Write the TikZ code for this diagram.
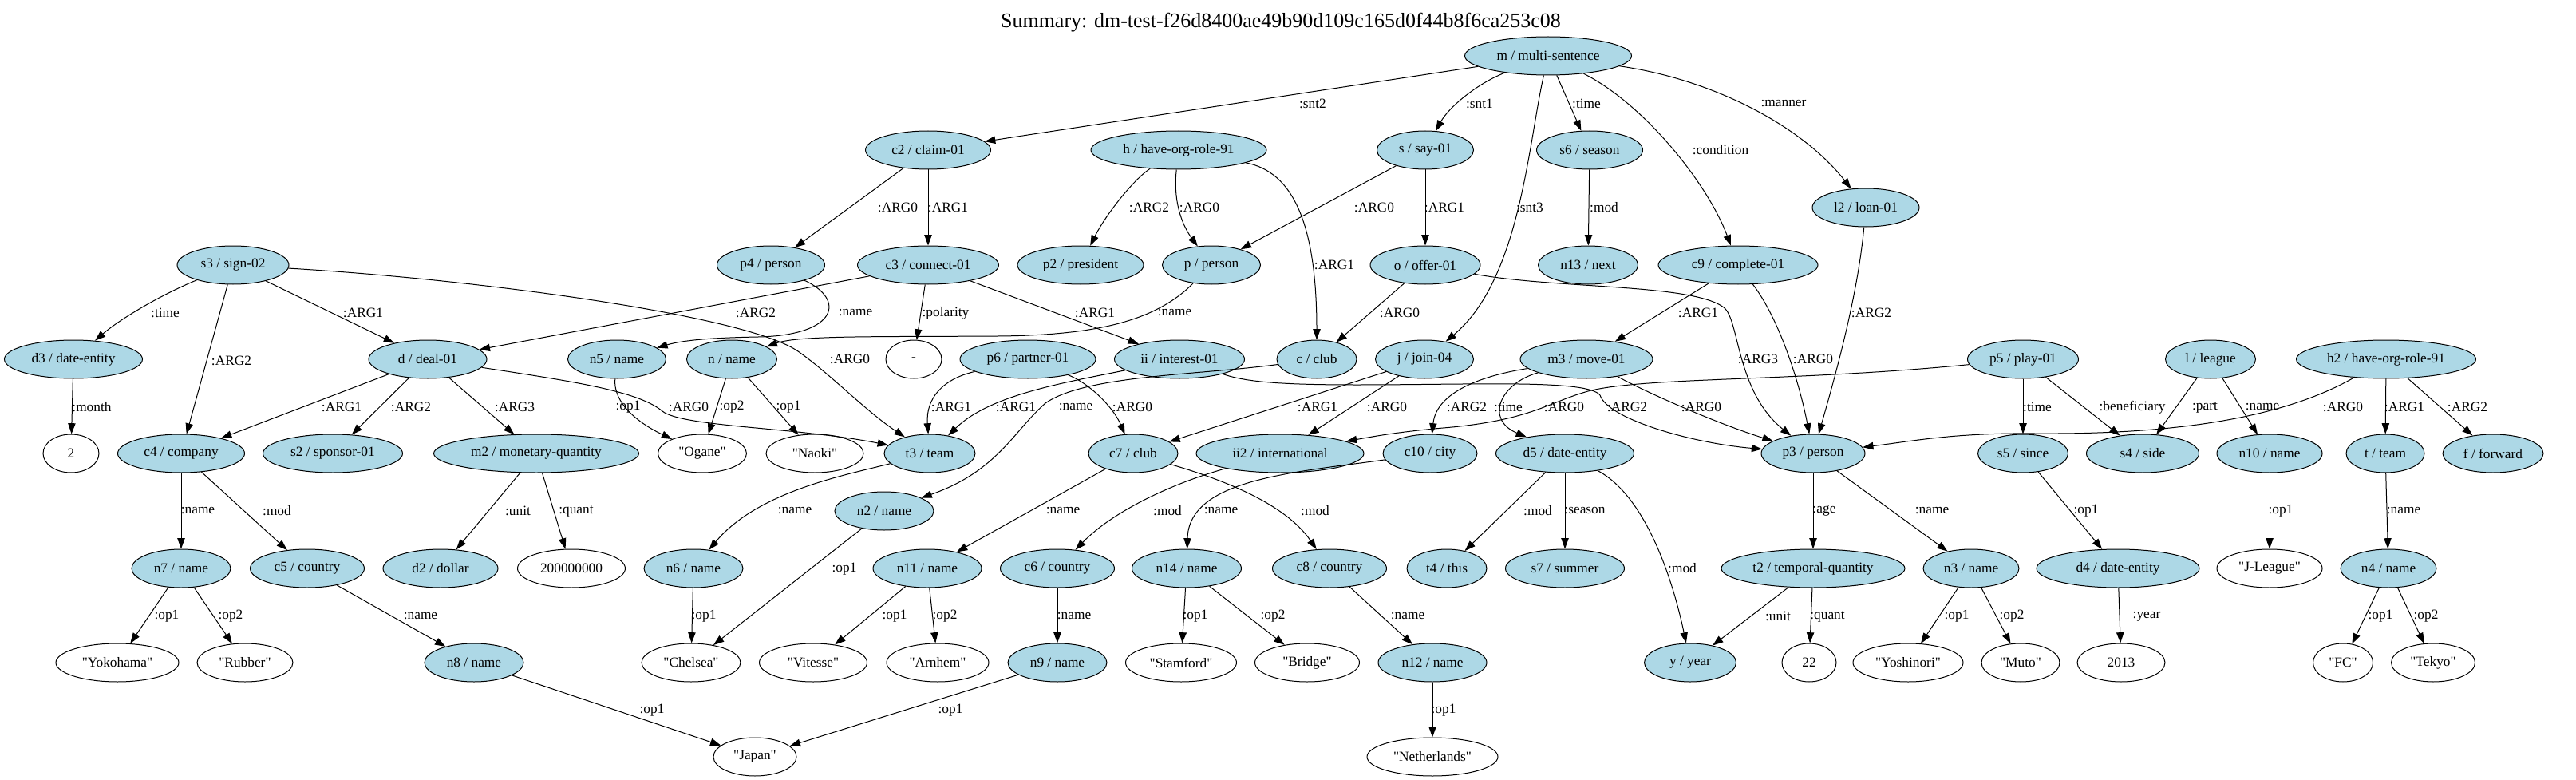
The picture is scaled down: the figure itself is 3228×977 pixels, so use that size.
\documentclass[tikz,border=0pt]{standalone}
\usepackage{fontspec}
\setmainfont{Liberation Serif}
\newfontfamily\gvfont{Liberation Serif}
\usetikzlibrary{shapes.geometric,arrows.meta}
\definecolor{lb}{HTML}{ADD8E6}
\newcommand{\ntx}[1]{\makebox[0pt]{#1}}
\begin{document}
\begin{tikzpicture}[x=0.75pt,y=-0.75pt,
  base/.style={ellipse, draw, line width=0.75pt, minimum height=36pt, inner sep=0pt, font=\gvfont\fontsize{13}{15}\selectfont},
  bn/.style={base, fill=lb, minimum width=#1*0.75pt},
  wn/.style={base, fill=white, minimum width=#1*0.75pt},
  e/.style={-{Triangle[length=10pt,width=7pt]}, line width=0.75pt},
  el/.style={font=\gvfont\fontsize{13}{15}\selectfont, inner sep=0pt}]
\fill[white] (0,0) rectangle (3228,977);
\useasboundingbox (0,0) rectangle (3228,977);
\node[inner sep=0pt, font=\gvfont\fontsize{19.5}{22}\selectfont] (title) at (1605,28) {Summary: dm-test-f26d8400ae49b90d109c165d0f44b8f6ca253c08};
% row 0
\node[bn=209] (m) at (1940,70) {\ntx{m / multi-sentence}};
% row 1
\node[bn=157] (c2) at (1163,188) {\ntx{c2 / claim-01}};
\node[bn=220] (h) at (1477,188) {\ntx{h / have-org-role-91}};
\node[bn=121] (s) at (1786,188) {\ntx{s / say-01}};
\node[bn=133] (s6) at (1992,188) {\ntx{s6 / season}};
\node[bn=134] (l2) at (2338,260) {\ntx{l2 / loan-01}};
% row 2
\node[bn=140] (s3) at (292,332) {\ntx{s3 / sign-02}};
\node[bn=135] (p4) at (966,332) {\ntx{p4 / person}};
\node[bn=177] (c3) at (1163,332) {\ntx{c3 / connect-01}};
\node[bn=158] (p2) at (1354,332) {\ntx{p2 / president}};
\node[bn=123] (p) at (1518,332) {\ntx{p / person}};
\node[bn=138] (o) at (1786,332) {\ntx{o / offer-01}};
\node[bn=125] (n13) at (1990,332) {\ntx{n13 / next}};
\node[bn=200] (c9) at (2178,332) {\ntx{c9 / complete-01}};
% row 3
\node[bn=173] (d3) at (92,450) {\ntx{d3 / date-entity}};
\node[bn=148] (d) at (536,450) {\ntx{d / deal-01}};
\node[bn=123] (n5) at (773,450) {\ntx{n5 / name}};
\node[bn=113] (n) at (917,450) {\ntx{n / name}};
\node[wn=70] (neg) at (1145,450) {\ntx{-}};
\node[bn=170] (p6) at (1288,450) {\ntx{p6 / partner-01}};
\node[bn=163] (ii) at (1478,450) {\ntx{ii / interest-01}};
\node[bn=100] (c) at (1650,450) {\ntx{c / club}};
\node[bn=123] (j) at (1785,450) {\ntx{j / join-04}};
\node[bn=166] (m3) at (1988,450) {\ntx{m3 / move-01}};
\node[bn=139] (p5) at (2535,450) {\ntx{p5 / play-01}};
\node[bn=113] (l) at (2770,450) {\ntx{l / league}};
\node[bn=225] (h2) at (2990,450) {\ntx{h2 / have-org-role-91}};
% row 4
\node[wn=70] (two) at (89,568) {\ntx{2}};
\node[bn=159] (c4) at (227,568) {\ntx{c4 / company}};
\node[bn=175] (s2) at (417,568) {\ntx{s2 / sponsor-01}};
\node[bn=257] (m2) at (672,568) {\ntx{m2 / monetary-quantity}};
\node[wn=111] (ogane) at (880,568) {\ntx{"Ogane"}};
\node[wn=122] (naoki) at (1021,568) {\ntx{"Naoki"}};
\node[bn=114] (t3) at (1165,568) {\ntx{t3 / team}};
\node[bn=112] (c7) at (1420,568) {\ntx{c7 / club}};
\node[bn=210] (ii2) at (1604,568) {\ntx{ii2 / international}};
\node[bn=118] (c10) at (1792,568) {\ntx{c10 / city}};
\node[bn=173] (d5) at (1961,568) {\ntx{d5 / date-entity}};
\node[bn=130] (p3) at (2272,568) {\ntx{p3 / person}};
\node[bn=113] (s5) at (2535,568) {\ntx{s5 / since}};
\node[bn=141] (s4) at (2685,568) {\ntx{s4 / side}};
\node[bn=132] (n10) at (2844,568) {\ntx{n10 / name}};
\node[bn=98] (t) at (2989,568) {\ntx{t / team}};
\node[bn=126] (f) at (3124,568) {\ntx{f / forward}};
% row 5
\node[bn=124] (n2) at (1108,640) {\ntx{n2 / name}};
% row 6
\node[bn=124] (n7) at (227,712) {\ntx{n7 / name}};
\node[bn=143] (c5) at (385,712) {\ntx{c5 / country}};
\node[bn=144] (d2) at (552,712) {\ntx{d2 / dollar}};
\node[wn=135] (q) at (716,712) {\ntx{200000000}};
\node[bn=124] (n6) at (869,712) {\ntx{n6 / name}};
\node[bn=136] (n11) at (1162,712) {\ntx{n11 / name}};
\node[bn=143] (c6) at (1325,712) {\ntx{c6 / country}};
\node[bn=137] (n14) at (1487,712) {\ntx{n14 / name}};
\node[bn=143] (c8) at (1666,712) {\ntx{c8 / country}};
\node[bn=100] (t4) at (1813,712) {\ntx{t4 / this}};
\node[bn=149] (s7) at (1961,712) {\ntx{s7 / summer}};
\node[bn=230] (t2) at (2272,712) {\ntx{t2 / temporal-quantity}};
\node[bn=120] (n3) at (2470,712) {\ntx{n3 / name}};
\node[bn=204] (d4) at (2654,712) {\ntx{d4 / date-entity}};
\node[wn=132] (jl) at (2844,712) {\ntx{"J-League"}};
\node[bn=120] (n4) at (2993,712) {\ntx{n4 / name}};
% row 7
\node[wn=154] (yok) at (147,830) {\ntx{"Yokohama"}};
\node[wn=120] (rub) at (307,830) {\ntx{"Rubber"}};
\node[bn=124] (n8) at (594,830) {\ntx{n8 / name}};
\node[wn=124] (chel) at (866,830) {\ntx{"Chelsea"}};
\node[wn=135] (vit) at (1019,830) {\ntx{"Vitesse"}};
\node[wn=128] (arn) at (1175,830) {\ntx{"Arnhem"}};
\node[bn=124] (n9) at (1325,830) {\ntx{n9 / name}};
\node[wn=139] (stam) at (1480,830) {\ntx{"Stamford"}};
\node[wn=131] (brid) at (1638,830) {\ntx{"Bridge"}};
\node[bn=136] (n12) at (1795,830) {\ntx{n12 / name}};
\node[bn=115] (yr) at (2118,830) {\ntx{y / year}};
\node[wn=68] (v22) at (2267,830) {\ntx{22}};
\node[wn=138] (yosh) at (2391,830) {\ntx{"Yoshinori"}};
\node[wn=98] (muto) at (2532,830) {\ntx{"Muto"}};
\node[wn=110] (v2013) at (2658,830) {\ntx{2013}};
\node[wn=75] (fc) at (2936,830) {\ntx{"FC"}};
\node[wn=105] (tek) at (3049,830) {\ntx{"Tekyo"}};
% row 8
\node[wn=104] (japan) at (946,948) {\ntx{"Japan"}};
\node[wn=164] (neth) at (1795,948) {\ntx{"Netherlands"}};

% edges from m
\draw[e] (m) -- (c2) node[el,at={(1645,130)}]{:snt2};
\draw[e] (m) .. controls (1850,105) and (1815,135) .. (s) node[el,at={(1854,130)}]{:snt1};
\draw[e] (m) .. controls (1915,180) and (1905,350) .. (j) node[el,at={(1917,260)}]{:snt3};
\draw[e] (m) -- (s6) node[el,at={(1988,130)}]{:time};
\draw[e] (m) .. controls (2060,130) and (2140,230) .. (c9) node[el,at={(2156,188)}]{:condition};
\draw[e] (m) .. controls (2150,100) and (2260,160) .. (l2) node[el,at={(2235,130)}]{:manner};
% row 1
\draw[e] (c2) -- (p4) node[el,at={(1125,260)}]{:ARG0};
\draw[e] (c2) -- (c3) node[el,at={(1188,260)}]{:ARG1};
\draw[e] (h) .. controls (1420,225) and (1385,270) .. (p2) node[el,at={(1440,260)}]{:ARG2};
\draw[e] (h) .. controls (1470,250) and (1480,280) .. (p) node[el,at={(1503,260)}]{:ARG0};
\draw[e] (h) .. controls (1620,215) and (1650,280) .. (c) node[el,at={(1672,332)}]{:ARG1};
\draw[e] (s) -- (p) node[el,at={(1722,260)}]{:ARG0};
\draw[e] (s) -- (o) node[el,at={(1810,260)}]{:ARG1};
\draw[e] (s6) -- (n13) node[el,at={(2010,260)}]{:mod};
% row 2
\draw[e] (s3) .. controls (200,370) and (150,400) .. (d3) node[el,at={(207,392)}]{:time};
\draw[e] (s3) -- (c4) node[el,at={(290,452)}]{:ARG2};
\draw[e] (s3) -- (d) node[el,at={(455,392)}]{:ARG1};
\draw[e] (s3) .. controls (600,350) and (935,395) .. (1000,440) .. controls (1040,468) and (1085,515) .. (t3) node[el,at={(1065,450)}]{:ARG0};
\draw[e] (p4) .. controls (1060,375) and (1050,420) .. (950,422) .. controls (900,423) and (860,425) .. (n5) node[el,at={(1072,392)}]{:name};
\draw[e] (c3) -- (d) node[el,at={(947,392)}]{:ARG2};
\draw[e] (c3) -- (neg) node[el,at={(1185,392)}]{:polarity};
\draw[e] (c3) -- (ii) node[el,at={(1372,392)}]{:ARG1};
\draw[e] (p) .. controls (1450,400) and (1380,420) .. (1250,421) .. controls (1100,422) and (1000,420) .. (n) node[el,at={(1472,392)}]{:name};
\draw[e] (o) -- (c) node[el,at={(1754,392)}]{:ARG0};
\draw[e] (o) .. controls (1950,362) and (2120,355) .. (2160,385) .. controls (2180,400) and (2175,490) .. (p3) node[el,at={(2203,450)}]{:ARG3};
\draw[e] (c9) -- (m3) node[el,at={(2128,392)}]{:ARG1};
\draw[e] (c9) .. controls (2230,400) and (2255,480) .. (p3) node[el,at={(2272,450)}]{:ARG0};
\draw[e] (l2) .. controls (2328,370) and (2300,470) .. (p3) node[el,at={(2345,392)}]{:ARG2};
% row 3
\draw[e] (d3) -- (two) node[el,at={(115,510)}]{:month};
\draw[e] (d) -- (c4) node[el,at={(428,510)}]{:ARG1};
\draw[e] (d) -- (s2) node[el,at={(515,510)}]{:ARG2};
\draw[e] (d) -- (m2) node[el,at={(645,510)}]{:ARG3};
\draw[e] (d) .. controls (720,478) and (800,490) .. (830,515) .. controls (855,535) and (1000,535) .. (t3) node[el,at={(863,510)}]{:ARG0};
\draw[e] (n5) .. controls (768,505) and (800,530) .. (ogane) node[el,at={(787,510)}]{:op1};
\draw[e] (n) -- (ogane) node[el,at={(917,510)}]{:op2};
\draw[e] (n) -- (naoki) node[el,at={(988,510)}]{:op1};
\draw[e] (p6) .. controls (1180,475) and (1160,500) .. (t3) node[el,at={(1192,510)}]{:ARG1};
\draw[e] (ii) .. controls (1330,480) and (1240,495) .. (t3) node[el,at={(1273,510)}]{:ARG1};
\draw[e] (c) .. controls (1500,470) and (1360,470) .. (1310,505) .. controls (1270,540) and (1250,590) .. (n2) node[el,at={(1348,510)}]{:name};
\draw[e] (p6) .. controls (1365,480) and (1395,510) .. (c7) node[el,at={(1419,510)}]{:ARG0};
\draw[e] (j) -- (c7) node[el,at={(1651,510)}]{:ARG1};
\draw[e] (j) -- (ii2) node[el,at={(1738,510)}]{:ARG0};
\draw[e] (m3) .. controls (1860,470) and (1800,490) .. (c10) node[el,at={(1838,510)}]{:ARG2};
\draw[e] (m3) .. controls (1880,480) and (1860,525) .. (d5) node[el,at={(1890,510)}]{:time};
\draw[e] (p5) .. controls (2250,478) and (2060,472) .. (1990,490) .. controls (1940,504) and (1920,525) .. (1820,535) .. controls (1760,540) and (1730,545) .. (ii2) node[el,at={(1960,510)}]{:ARG0};
\draw[e] (ii) .. controls (1560,478) and (1600,482) .. (1700,482) .. controls (1850,482) and (1990,475) .. (2005,495) .. controls (2015,525) and (2120,555) .. (p3) node[el,at={(2039,510)}]{:ARG2};
\draw[e] (m3) .. controls (2060,490) and (2150,530) .. (p3) node[el,at={(2132,510)}]{:ARG0};
\draw[e] (p5) -- (s5) node[el,at={(2553,510)}]{:time};
\draw[e] (p5) -- (s4) node[el,at={(2672,510)}]{:beneficiary};
\draw[e] (l) -- (s4) node[el,at={(2763,510)}]{:part};
\draw[e] (l) -- (n10) node[el,at={(2835,510)}]{:name};
\draw[e] (h2) .. controls (2850,530) and (2700,544) .. (2550,543) .. controls (2450,542) and (2400,552) .. (p3) node[el,at={(2936,510)}]{:ARG0};
\draw[e] (h2) -- (t) node[el,at={(3013,510)}]{:ARG1};
\draw[e] (h2) -- (f) node[el,at={(3092,510)}]{:ARG2};
% row 4
\draw[e] (c4) -- (n7) node[el,at={(248,640)}]{:name};
\draw[e] (c4) -- (c5) node[el,at={(347,640)}]{:mod};
\draw[e] (m2) -- (d2) node[el,at={(649,640)}]{:unit};
\draw[e] (m2) -- (q) node[el,at={(722,640)}]{:quant};
\draw[e] (t3) .. controls (1060,595) and (950,615) .. (n6) node[el,at={(996,640)}]{:name};
\draw[e] (c7) -- (n11) node[el,at={(1332,640)}]{:name};
\draw[e] (ii2) .. controls (1470,605) and (1395,640) .. (c6) node[el,at={(1463,640)}]{:mod};
\draw[e] (c10) .. controls (1620,592) and (1490,600) .. (n14) node[el,at={(1530,640)}]{:name};
\draw[e] (c7) .. controls (1530,600) and (1610,630) .. (c8) node[el,at={(1648,640)}]{:mod};
\draw[e] (d5) -- (t4) node[el,at={(1927,640)}]{:mod};
\draw[e] (d5) -- (s7) node[el,at={(1986,640)}]{:season};
\draw[e] (d5) .. controls (2060,620) and (2095,720) .. (yr) node[el,at={(2108,712)}]{:mod};
\draw[e] (p3) -- (t2) node[el,at={(2286,640)}]{:age};
\draw[e] (p3) -- (n3) node[el,at={(2421,640)}]{:name};
\draw[e] (s5) -- (d4) node[el,at={(2614,640)}]{:op1};
\draw[e] (n10) -- (jl) node[el,at={(2858,640)}]{:op1};
\draw[e] (t) -- (n4) node[el,at={(3012,640)}]{:name};
\draw[e] (n2) -- (chel) node[el,at={(1058,713)}]{:op1};
% row 6
\draw[e] (n7) -- (yok) node[el,at={(209,772)}]{:op1};
\draw[e] (n7) -- (rub) node[el,at={(289,772)}]{:op2};
\draw[e] (c5) -- (n8) node[el,at={(527,772)}]{:name};
\draw[e] (n6) -- (chel) node[el,at={(882,772)}]{:op1};
\draw[e] (n11) -- (vit) node[el,at={(1121,772)}]{:op1};
\draw[e] (n11) -- (arn) node[el,at={(1184,772)}]{:op2};
\draw[e] (c6) -- (n9) node[el,at={(1346,772)}]{:name};
\draw[e] (n14) -- (stam) node[el,at={(1498,772)}]{:op1};
\draw[e] (n14) -- (brid) node[el,at={(1595,772)}]{:op2};
\draw[e] (c8) -- (n12) node[el,at={(1764,772)}]{:name};
\draw[e] (t2) -- (yr) node[el,at={(2228,772)}]{:unit};
\draw[e] (t2) -- (v22) node[el,at={(2290,772)}]{:quant};
\draw[e] (n3) -- (yosh) node[el,at={(2452,772)}]{:op1};
\draw[e] (n3) -- (muto) node[el,at={(2521,772)}]{:op2};
\draw[e] (d4) -- (v2013) node[el,at={(2690,772)}]{:year};
\draw[e] (n4) -- (fc) node[el,at={(2983,772)}]{:op1};
\draw[e] (n4) -- (tek) node[el,at={(3040,772)}]{:op2};
% row 7
\draw[e] (n8) -- (japan) node[el,at={(817,890)}]{:op1};
\draw[e] (n9) -- (japan) node[el,at={(1191,890)}]{:op1};
\draw[e] (n12) -- (neth) node[el,at={(1809,890)}]{:op1};
\end{tikzpicture}
\end{document}
